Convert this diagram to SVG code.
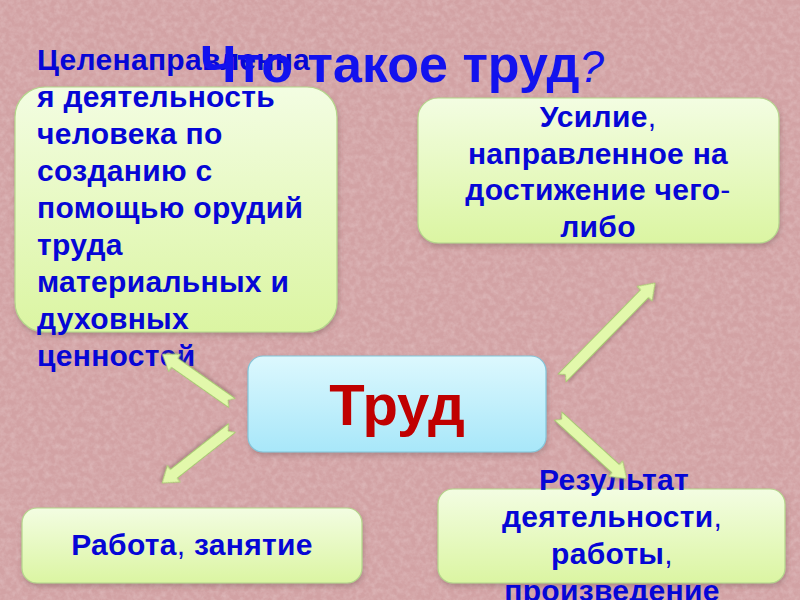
<svg xmlns="http://www.w3.org/2000/svg" width="800" height="600" viewBox="0 0 800 600">
<defs>
<style>
.body{font-family:"Liberation Sans",Arial,sans-serif;font-weight:bold;font-size:30px;fill:#0606d6;letter-spacing:0.3px}
.c{text-anchor:middle}
.punct{font-weight:normal}
.gbox{fill:url(#gGreen);stroke:#b4d68c;stroke-width:1.2;filter:url(#sh)}
.bbox{fill:url(#gBlue);stroke:#84c6da;stroke-width:1.2;filter:url(#sh)}
.arrow{fill:#e2f8ab;stroke:#a7cc72;stroke-width:1;filter:url(#sh2)}
</style>
<linearGradient id="gGreen" x1="0" y1="0" x2="0" y2="1">
<stop offset="0" stop-color="#f3fde2"/>
<stop offset="1" stop-color="#dbf5a2"/>
</linearGradient>
<linearGradient id="gBlue" x1="0" y1="0" x2="0" y2="1">
<stop offset="0" stop-color="#dcf8fe"/>
<stop offset="1" stop-color="#a8e7f9"/>
</linearGradient>
<filter id="sh" x="-10%" y="-10%" width="120%" height="130%">
<feDropShadow dx="1" dy="3" stdDeviation="2.5" flood-color="#6a4848" flood-opacity="0.35"/>
</filter>
<filter id="sh2" x="-20%" y="-20%" width="140%" height="140%">
<feDropShadow dx="1" dy="2" stdDeviation="1.5" flood-color="#6a4848" flood-opacity="0.35"/>
</filter>
<filter id="tex" x="0" y="0" width="100%" height="100%">
<feTurbulence type="fractalNoise" baseFrequency="0.18" numOctaves="3" seed="7"/>
<feColorMatrix type="matrix" values="0 0 0 0 1  0 0 0 0 0.95  0 0 0 0 0.95  0.4 0 0 0 -0.14"/>
</filter>
</defs>
<rect width="800" height="600" fill="#d2a2a4"/>
<rect width="800" height="600" fill="#fff" filter="url(#tex)"/>

<g id="node-definition">
<rect class="gbox" x="15" y="87" width="322" height="245" rx="30"/>
<text class="body" x="37" y="70">Целенаправленна</text>
<text class="body" x="37" y="107">я деятельность</text>
<text class="body" x="37" y="144">человека по</text>
<text class="body" x="37" y="181">созданию с</text>
<text class="body" x="37" y="218">помощью орудий</text>
<text class="body" x="37" y="255">труда</text>
<text class="body" x="37" y="292">материальных и</text>
<text class="body" x="37" y="329">духовных</text>
<text class="body" x="37" y="366">ценностей</text>
</g>

<g id="node-effort">
<rect class="gbox" x="418" y="98" width="361" height="145" rx="20"/>
<text class="body c" x="598" y="127">Усилие<tspan class="punct">,</tspan></text>
<text class="body c" x="598" y="164">направленное на</text>
<text class="body c" x="598" y="200">достижение чего<tspan class="punct">-</tspan></text>
<text class="body c" x="598" y="237">либо</text>
</g>

<g id="node-work">
<rect class="gbox" x="22" y="508" width="340" height="75" rx="15"/>
<text class="body c" x="192" y="555">Работа<tspan class="punct">,</tspan> занятие</text>
</g>

<g id="node-result">
<rect class="gbox" x="438" y="489" width="347" height="94" rx="15"/>
<text class="body c" x="614" y="490">Результат</text>
<text class="body c" x="612" y="527">деятельности<tspan class="punct">,</tspan></text>
<text class="body c" x="612" y="564">работы<tspan class="punct">,</tspan></text>
<text class="body c" x="612" y="601">произведение</text>
</g>

<g id="node-trud">
<rect class="bbox" x="248" y="356" width="298" height="96" rx="15"/>
<text x="397" y="425" text-anchor="middle" font-family="Liberation Sans, Arial, sans-serif" font-weight="bold" font-size="58" fill="#c00000">Труд</text>
</g>

<g id="title">
<text x="200" y="82" font-family="Liberation Sans, Arial, sans-serif" font-weight="bold" font-size="52" fill="#1212ee">Что такое труд<tspan font-weight="normal" font-style="italic" font-size="44">?</tspan></text>
</g>

<g id="connectors">
<path class="arrow" transform="translate(232,403) rotate(-145)" d="M0,-5.5 L70,-5.5 L70,-10.5 L85,0 L70,10.5 L70,5.5 L0,5.5 L5,0 Z"/>
<path class="arrow" transform="translate(562,378) rotate(-45.6)" d="M0,-5.5 L118,-5.5 L118,-10.5 L133,0 L118,10.5 L118,5.5 L0,5.5 L5,0 Z"/>
<path class="arrow" transform="translate(232,428) rotate(141.8)" d="M0,-5.5 L74,-5.5 L74,-10.5 L89,0 L74,10.5 L74,5.5 L0,5.5 L5,0 Z"/>
<path class="arrow" transform="translate(558,416) rotate(42.4)" d="M0,-5.5 L78,-5.5 L78,-10.5 L93,0 L78,10.5 L78,5.5 L0,5.5 L5,0 Z"/>
</g>
</svg>
